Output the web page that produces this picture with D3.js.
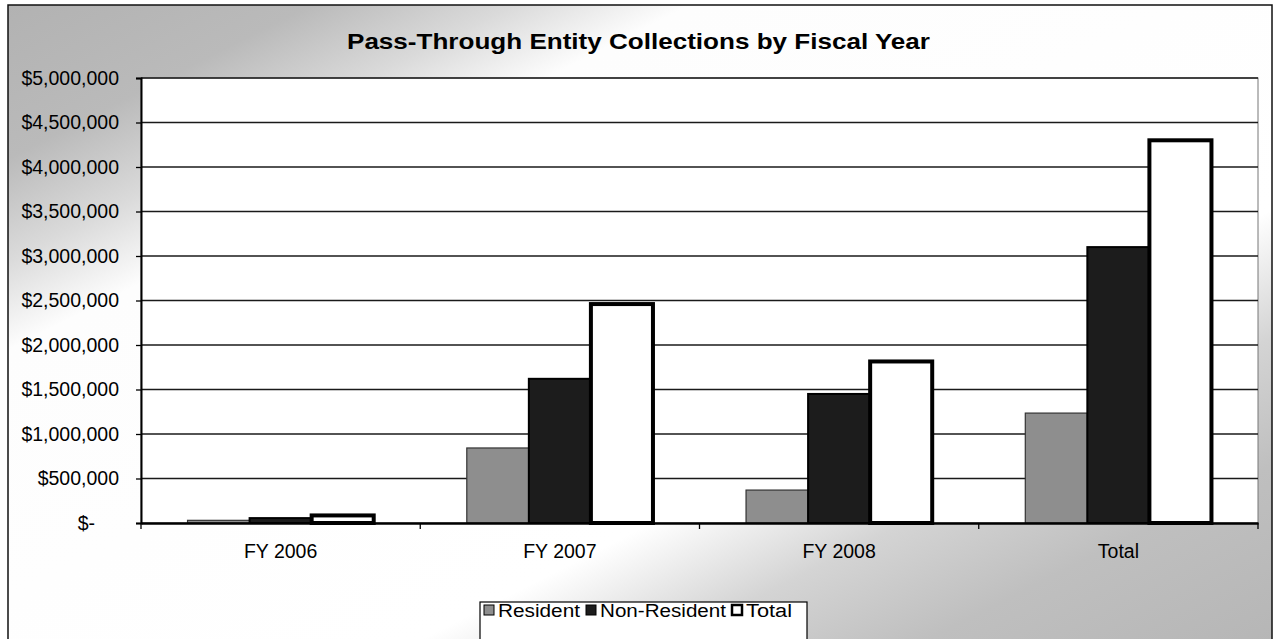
<!DOCTYPE html>
<html>
<head>
<meta charset="utf-8">
<script src="https://cdn.jsdelivr.net/npm/d3@7"></script>
<style>
  html, body { margin: 0; padding: 0; background: #fff; }
  svg { display: block; font-family: "Liberation Sans", Arial, sans-serif; }
</style>
</head>
<body>
<div id="chart"></div>
<script>
// Chart data
const categories = ['FY 2006', 'FY 2007', 'FY 2008', 'Total'];
const seriesNames = ['Resident', 'Non-Resident', 'Total'];
const resident = [30000, 843000, 370000, 1235000];
const nonResident = [55000, 1620000, 1450000, 3100000];
const totals = [85000, 2460000, 1815000, 4300000];
const yTicks = [0, 500000, 1000000, 1500000, 2000000, 2500000, 3000000, 3500000, 4000000, 4500000, 5000000];

const width = 1276;
const height = 639;
const plot = { left: 141, right: 1258, top: 78, bottom: 523 };

const fills = { 'Resident': '#8e8e8e', 'Non-Resident': '#1c1c1c', 'Total': '#ffffff' };
const strokes = { 'Resident': '#333', 'Non-Resident': '#000', 'Total': '#000' };
const strokeW = { 'Resident': 1.2, 'Non-Resident': 2, 'Total': 4 };

function drawChart() {
  const svg = d3.select('#chart').append('svg').attr('width', width).attr('height', height);
  const defs = svg.append('defs');

  // diagonal shading: grey in the top-left and bottom-right corners, white across the middle
  const bg = defs.append('linearGradient').attr('id', 'bgG')
    .attr('x1', 0).attr('y1', 0).attr('x2', 1).attr('y2', 1);
  [[0, '#b2b2b2'], [0.12, '#bababa'], [0.2, '#dadada'], [0.27, '#fdfdfd'], [0.66, '#ffffff'],
    [0.76, '#d4d4d4'], [0.86, '#bfbfbf'], [1, '#b6b6b6']]
    .forEach(([o, c]) => bg.append('stop').attr('offset', o).attr('stop-color', c));

  svg.append('rect').attr('width', width).attr('height', height).attr('fill', '#fff');
  svg.append('rect').attr('x', 8).attr('y', 5).attr('width', 1264).attr('height', height)
    .attr('fill', 'url(#bgG)').attr('stroke', '#111').attr('stroke-width', 1.5);

  // plot area
  svg.append('rect').attr('x', plot.left).attr('y', plot.top)
    .attr('width', plot.right - plot.left).attr('height', plot.bottom - plot.top)
    .attr('fill', '#fff').attr('stroke', '#777').attr('stroke-width', 1);

  const x = d3.scaleBand().domain(categories).range([plot.left, plot.right]).padding(0);
  const xs = d3.scaleBand().domain(seriesNames).range([0, x.bandwidth()]).paddingInner(0).paddingOuter(0.75);
  const y = d3.scaleLinear().domain([0, 5000000]).range([plot.bottom, plot.top]);

  // gridlines
  svg.append('g').selectAll('line').data(yTicks.slice(1)).join('line')
    .attr('x1', plot.left).attr('x2', plot.right)
    .attr('y1', (d) => y(d)).attr('y2', (d) => y(d))
    .attr('stroke', '#1a1a1a').attr('stroke-width', 1.3);

  // y axis
  const yAxis = svg.append('g').attr('transform', `translate(${plot.left},0)`)
    .call(d3.axisLeft(y).tickValues(yTicks).tickSize(5).tickPadding(17)
      .tickFormat((d) => (d === 0 ? '$-' : '$' + d3.format(',')(d))));
  yAxis.select('.domain').attr('stroke', '#000').attr('stroke-width', 2);
  yAxis.selectAll('.tick line').attr('stroke', '#000').attr('stroke-width', 1.3);
  yAxis.selectAll('.tick text').attr('fill', '#000').attr('font-size', 19.5)
    .attr('font-family', '"Liberation Sans", Arial, sans-serif')
    .attr('dx', (d) => (d === 0 ? -24 : 0));

  // bars
  const rows = categories.map((c, i) => ({
    cat: c,
    values: [
      { s: 'Resident', v: resident[i] },
      { s: 'Non-Resident', v: nonResident[i] },
      { s: 'Total', v: totals[i] },
    ],
  }));

  svg.append('g').selectAll('g').data(rows).join('g')
    .attr('transform', (d) => `translate(${x(d.cat)},0)`)
    .selectAll('rect').data((d) => d.values).join('rect')
    .attr('x', (d) => xs(d.s))
    .attr('width', xs.bandwidth())
    .attr('y', (d) => y(d.v))
    .attr('height', (d) => y(0) - y(d.v))
    .attr('fill', (d) => fills[d.s])
    .attr('stroke', (d) => strokes[d.s])
    .attr('stroke-width', (d) => strokeW[d.s]);

  // x axis
  const xAxis = svg.append('g').attr('transform', `translate(0,${plot.bottom})`)
    .call(d3.axisBottom(x).tickSize(0).tickPadding(21));
  xAxis.select('.domain').attr('stroke', '#000').attr('stroke-width', 2.5);
  xAxis.selectAll('.tick text').attr('fill', '#000').attr('font-size', 19.5)
    .attr('font-family', '"Liberation Sans", Arial, sans-serif');
  // category boundary ticks
  const bounds = categories.map((c) => x(c)).concat([plot.right]);
  xAxis.append('g').selectAll('line').data(bounds).join('line')
    .attr('x1', (d) => d).attr('x2', (d) => d).attr('y1', 0).attr('y2', 6)
    .attr('stroke', '#000').attr('stroke-width', 1.3);

  // title
  svg.append('text').attr('x', 347).attr('y', 49)
    .attr('font-size', 22).attr('font-weight', 'bold').attr('fill', '#000')
    .attr('textLength', 583).attr('lengthAdjust', 'spacingAndGlyphs')
    .text('Pass-Through Entity Collections by Fiscal Year');

  // legend, laid out left to right
  const legend = svg.append('g');
  legend.append('rect').attr('x', 480).attr('y', 602).attr('width', 327).attr('height', 60)
    .attr('fill', '#fff').attr('stroke', '#000').attr('stroke-width', 1.2);
  const legendTextW = [82, 126, 46];
  let lx = 484;
  seriesNames.forEach((s, i) => {
    legend.append('rect').attr('x', lx).attr('y', 605).attr('width', 10).attr('height', 10)
      .attr('fill', fills[s]).attr('stroke', '#000').attr('stroke-width', s === 'Total' ? 2.5 : 1);
    legend.append('text').attr('x', lx + 14).attr('y', 616.5)
      .attr('font-size', 18).attr('fill', '#000')
      .attr('textLength', legendTextW[i]).attr('lengthAdjust', 'spacingAndGlyphs')
      .text(s);
    lx += 14 + legendTextW[i] + 6;
  });
}

document.addEventListener('DOMContentLoaded', drawChart);
</script>
</body>
</html>
